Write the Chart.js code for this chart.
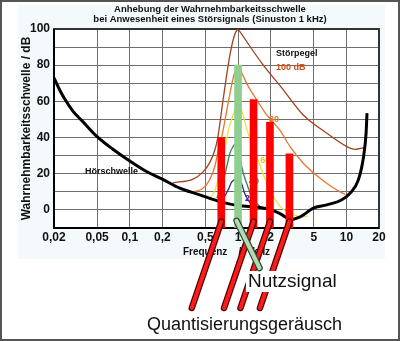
<!DOCTYPE html>
<html><head><meta charset="utf-8">
<script src="https://cdn.jsdelivr.net/npm/chart.js@4.4.1/dist/chart.umd.min.js"></script>
<style>html,body{margin:0;padding:0;background:#fff;overflow:hidden}canvas{display:block}</style>
</head><body>
<canvas id="c" width="400" height="341"></canvas>
<script>
// ---------- data ----------
const titleLines = ['Anhebung der Wahrnehmbarkeitsschwelle', 'bei Anwesenheit eines Störsignals (Sinuston 1 kHz)'];
const xTitle = 'Frequenz    /    kHz';
const yTitle = 'Wahrnehmbarkeitsschwelle / dB';
const freqTicks = [0.02, 0.05, 0.1, 0.2, 0.5, 1, 2, 5, 10, 20];
const freqTickLabels = ['0,02', '0,05', '0,1', '0,2', '0,5', '1', '2', '5', '10', '20'];
const levelMin = -10, levelMax = 100, levelStep = 10, levelLabelStep = 20;

// [frequency kHz, level dB]
const hearingThreshold = [[0.02,73],[0.0227,66],[0.0253,61],[0.03,54.5],[0.036,49.5],[0.05,40.5],[0.07,33.5],[0.1,27],[0.14,21.5],[0.2,17],[0.29,12],[0.45,8.2],[0.68,4.6],[1.0,2.4],[1.6,1.3],[2.0,0],[2.44,-2],[3.1,-5.3],[3.6,-4.3],[4.0,-2.8],[4.9,0.9],[6.6,2.8],[9.0,5.5],[10.8,9.2],[12.9,16.6],[14.4,29.4],[15.2,42.4],[15.5,53.5]];
const masking100 = [[0.25,15],[0.384,17],[0.475,21],[0.546,26],[0.61,33],[0.65,40],[0.732,62],[0.843,86],[0.938,97.5],[1.0,100],[1.71,80],[2.53,67.5],[4.0,52.5],[6.6,42.4],[10.1,35],[12.0,33.5],[14.9,34.6]];
const masking80 = [[0.336,9.6],[0.475,12],[0.546,16.6],[0.61,24],[0.655,32.5],[0.708,40.5],[0.77,52],[0.84,64],[0.92,75],[1.0,80],[1.25,68],[1.5,60.5],[1.84,52.5],[2.44,44],[3.02,35],[4.0,25.8],[5.72,17.5],[8.15,11],[9.8,8.5]];
const masking60 = [[0.551,6.5],[0.614,11],[0.682,22],[0.75,33],[0.813,44],[0.906,53],[1.0,60],[1.08,55],[1.2,45],[1.35,36],[1.5,29],[1.7,20],[1.97,11],[2.44,2],[3.24,-2.8],[4.0,-3.7],[4.4,-3.5]];
const masking40 = [[0.636,6.5],[0.708,13],[0.787,24],[0.843,31.5],[0.92,36],[1.0,37.5],[1.04,31],[1.08,24],[1.2,14.7],[1.34,7.3],[1.6,1.8],[1.71,1]];
const masking20 = [[0.66,5],[0.74,7],[0.81,11],[0.875,15.5],[1.0,17.5],[1.08,14.5],[1.15,9.2],[1.24,5.5],[1.33,3]];

const noiseFreqs = [0.7, 1.39, 1.97, 2.98];
const noiseLevels = [40, 61, 48.5, 31];
const signalFreqs = [1.0];
const signalLevels = [80];

// ---------- styling / annotations ----------
const FONT = '"Liberation Sans", Arial, sans-serif';
Chart.defaults.font.family = FONT;
const maskColors = ['#a3421c', '#e6782e', '#f2e03a', '#2a8a50', '#2a2a9a'];
const curveLabels = [
  {text:'Störpegel', f:2.24, db:86.5, color:'#111'},
  {text:'100 dB', f:2.24, db:78.7, color:'#d04a14'},
  {text:'80', f:1.93, db:49.7, color:'#e6782e'},
  {text:'60', f:1.60, db:27.3, color:'#e0c818'},
  {text:'40', f:1.26, db:15.5, color:'#2a8a50'},
  {text:'20', f:1.16, db:6.1, color:'#2a2a9a'},
  {text:'Hörschwelle', f:0.0386, db:21.3, color:'#111'}
];

const toXY = arr => arr.map(([x, y]) => ({x, y}));
function splitAtPeak(curve) {
  let k = 0;
  curve.forEach((p, i) => { if (p[1] > curve[k][1]) k = i; });
  return [curve.slice(0, k + 1), curve.slice(k)];
}
const lineBase = {type:'line', pointRadius:0, fill:false, cubicInterpolationMode:'monotone', order:2};
const datasets = [];
[masking100, masking80, masking60, masking40, masking20].forEach((c, i) => {
  splitAtPeak(c).forEach(part => datasets.push(Object.assign({}, lineBase, {
    data: toXY(part), borderColor: maskColors[i], borderWidth: 1.3
  })));
});
datasets.push(Object.assign({}, lineBase, {data: toXY(hearingThreshold), borderColor:'#000', borderWidth:3, order:1}));
datasets.push({type:'bar', data: noiseFreqs.map((f, i) => ({x:f, y:[levelMin, noiseLevels[i]]})),
  backgroundColor:'#ff0000', barThickness:7, grouped:false, order:0, borderWidth:0});
datasets.push({type:'bar', data: signalFreqs.map((f, i) => ({x:f, y:[levelMin, signalLevels[i]]})),
  backgroundColor:'#8fce8f', barThickness:7, grouped:false, order:0, borderWidth:0});

function pointer(ctx, x1, y1, x2, y2, dark, light) {
  ctx.lineCap = 'round';
  ctx.strokeStyle = dark; ctx.lineWidth = 6.5;
  ctx.beginPath(); ctx.moveTo(x1, y1); ctx.lineTo(x2, y2); ctx.stroke();
  ctx.strokeStyle = light; ctx.lineWidth = 4;
  ctx.beginPath(); ctx.moveTo(x1, y1); ctx.lineTo(x2, y2); ctx.stroke();
}

const decor = {
  id: 'decor',
  beforeDraw(chart) {
    const ctx = chart.ctx, a = chart.chartArea;
    ctx.save();
    ctx.fillStyle = '#fff'; ctx.fillRect(0, 0, chart.width, chart.height);
    ctx.fillStyle = '#f4fafc'; ctx.fillRect(18, 5, 367, 254);
    ctx.fillStyle = '#fff'; ctx.fillRect(a.left, a.top, a.right - a.left, a.bottom - a.top);
    ctx.restore();
  },
  beforeDatasetsDraw(chart) {
    const ctx = chart.ctx, a = chart.chartArea, sx = chart.scales.x, sy = chart.scales.y;
    ctx.save();
    ctx.strokeStyle = '#333'; ctx.lineWidth = 2;
    ctx.strokeRect(a.left, a.top, a.right - a.left, a.bottom - a.top);
    ctx.strokeStyle = '#000';
    ctx.beginPath(); ctx.moveTo(a.left, a.top); ctx.lineTo(a.left, a.bottom); ctx.lineTo(a.right, a.bottom); ctx.stroke();
    ctx.font = 'bold 9px ' + FONT; ctx.textBaseline = 'middle'; ctx.textAlign = 'left';
    curveLabels.forEach(l => {
      ctx.fillStyle = l.color;
      ctx.fillText(l.text, sx.getPixelForValue(l.f), sy.getPixelForValue(l.db));
    });
    ctx.restore();
  },
  afterDraw(chart) {
    const ctx = chart.ctx, sx = chart.scales.x, sy = chart.scales.y;
    ctx.save();
    ctx.fillStyle = '#111'; ctx.textAlign = 'center'; ctx.textBaseline = 'middle';
    ctx.font = 'bold 9.5px ' + FONT;
    ctx.fillText(titleLines[0], 210, 9);
    ctx.fillText(titleLines[1], 210, 19.5);
    ctx.font = 'bold 10px ' + FONT;
    ctx.fillText(xTitle, 226.5, 252);
    // pointers to the noise bars
    noiseFreqs.forEach(f => {
      const x1 = sx.getPixelForValue(f), y1 = sy.getPixelForValue(-6.5);
      pointer(ctx, x1, y1, x1 - 29.5, 308, '#4a0000', '#ff1a1a');
    });
    ctx.fillStyle = '#fff'; ctx.fillRect(246, 271, 96, 21);
    signalFreqs.forEach(f => {
      const x1 = sx.getPixelForValue(f) - 1.5, y1 = sy.getPixelForValue(-6);
      pointer(ctx, x1, y1, x1 + 23, 268, '#2f4a2f', '#b4dcb4');
    });
    ctx.fillStyle = '#111'; ctx.textAlign = 'left'; ctx.textBaseline = 'alphabetic';
    ctx.font = '19px ' + FONT;
    ctx.fillText('Nutzsignal', 248, 287);
    ctx.font = '18px ' + FONT;
    ctx.fillText('Quantisierungsgeräusch', 147, 330);
    ctx.strokeStyle = '#555'; ctx.lineWidth = 2;
    ctx.strokeRect(1, 1, chart.width - 2, chart.height - 2);
    ctx.restore();
  }
};

new Chart(document.getElementById('c'), {
  type: 'bar',
  data: {datasets},
  plugins: [decor],
  options: {
    responsive: false, animation: false,
    layout: {padding: {left: 0, right: 21, top: 29, bottom: 0}},
    plugins: {legend: {display: false}, tooltip: {enabled: false}, title: {display: false}},
    scales: {
      x: {
        type: 'logarithmic', min: freqTicks[0], max: freqTicks[freqTicks.length - 1],
        offset: false,
        afterBuildTicks: s => { s.ticks = freqTicks.map(v => ({value: v})); },
        afterFit: s => { s.height = 113; },
        grid: {offset: false, color: '#6e6e6e', lineWidth: 1, drawTicks: false},
        border: {display: false},
        ticks: {
          autoSkip: false, maxRotation: 0, padding: 2, color: '#111',
          font: {size: 12, weight: 'bold'},
          callback: v => { const i = freqTicks.indexOf(v); return i >= 0 ? freqTickLabels[i] : ''; }
        }
      },
      y: {
        type: 'linear', min: levelMin, max: levelMax,
        afterFit: s => { s.width = 54; },
        grid: {color: '#6e6e6e', lineWidth: 1, drawTicks: false},
        border: {display: false},
        title: {display: true, text: yTitle, color: '#111', font: {size: 12, weight: 'bold'}, padding: {top: 19, bottom: 0}},
        ticks: {
          stepSize: levelStep, padding: 4, color: '#111', font: {size: 12, weight: 'bold'},
          callback: v => (v >= 0 && v % levelLabelStep === 0) ? String(v) : ''
        }
      }
    }
  }
});
</script>
</body></html>
